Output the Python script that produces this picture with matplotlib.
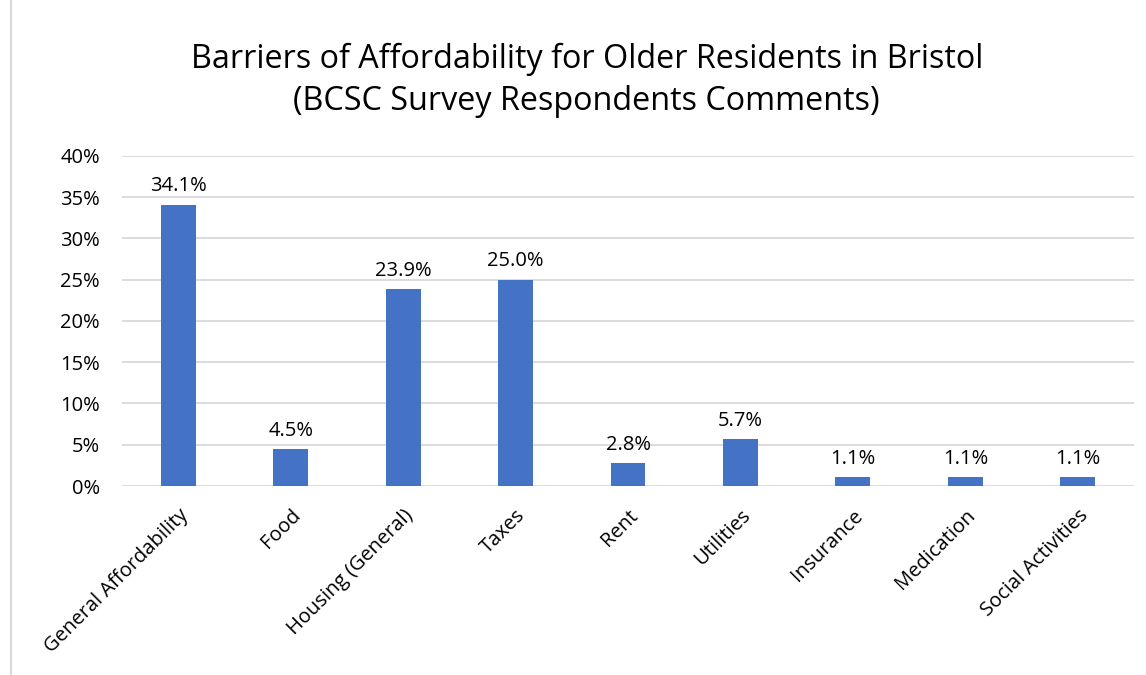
import matplotlib
matplotlib.use("Agg")
import matplotlib.pyplot as plt
from matplotlib.ticker import PercentFormatter
from matplotlib.lines import Line2D

categories = ["General Affordability", "Food", "Housing (General)", "Taxes", "Rent",
              "Utilities", "Insurance", "Medication", "Social Activities"]
values = [34.1, 4.5, 23.9, 25.0, 2.8, 5.7, 1.1, 1.1, 1.1]

plt.rcParams['font.family'] = ['Open Sans', 'DejaVu Sans']

fig = plt.figure(figsize=(11.46, 6.75), dpi=100)
ax = fig.add_axes([0.1065, 0.28, 0.883, 0.489])

x = range(len(categories))
bars = ax.bar(x, values, width=0.31, color="#4472C4", zorder=3)
for b, v in zip(bars, values):
    ax.text(b.get_x() + b.get_width() / 2, v + 1.0, f"{v:.1f}%",
            ha="center", va="bottom", fontsize=14.5, color="#000000")

ax.set_xlim(-0.5, len(categories) - 0.5)
ax.set_ylim(0, 40)
ax.set_yticks(range(0, 41, 5))
ax.yaxis.set_major_formatter(PercentFormatter(decimals=0))
ax.grid(axis="y", color="#d9d9d9", linewidth=1.3, zorder=0)
for s in ax.spines.values():
    s.set_visible(False)
ax.tick_params(axis="both", length=0, labelsize=14.5, colors="#000000")
ax.tick_params(axis="y", pad=16)
ax.set_xticks(list(x))
ax.set_xticklabels(categories, rotation=45, ha="right", rotation_mode="anchor")
ax.tick_params(axis="x", pad=14)

fig.suptitle("Barriers of Affordability for Older Residents in Bristol\n(BCSC Survey Respondents Comments)",
             x=0.512, y=0.937, fontsize=23.3, linespacing=1.38)

fig.add_artist(Line2D([0.0096, 0.0096], [0, 1], color="#d9d9d9", linewidth=1.5))

fig.savefig("out.png", dpi=100)
